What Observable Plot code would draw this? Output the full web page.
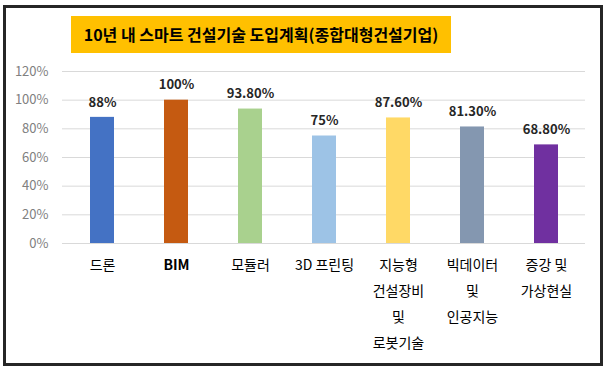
<!DOCTYPE html>
<html><head><meta charset="utf-8">
<script src="https://cdn.jsdelivr.net/npm/d3@7"></script>
<script src="https://cdn.jsdelivr.net/npm/@observablehq/plot@0.6"></script>
<style>
body{margin:0;background:#fff;font-family:"Noto Sans CJK KR","Noto Sans",sans-serif;}
#wrap{position:relative;width:607px;height:371px;overflow:hidden;}
#frame{position:absolute;left:3px;top:5px;width:594px;height:355px;border:3px solid #262626;pointer-events:none;}
#title{position:absolute;left:71px;top:16px;width:380px;height:37px;background:#FFC000;color:#000;font-weight:bold;font-size:16px;line-height:37px;text-align:center;white-space:nowrap;}
#chart{position:absolute;left:0;top:0;}
</style></head>
<body>
<div id="wrap">
<div id="chart"></div>
<div id="title">10년 내 스마트 건설기술 도입계획(종합대형건설기업)</div>
<div id="frame"></div>
</div>
<script>
const categories = ["드론","BIM","모듈러","3D 프린팅","지능형\n건설장비\n및\n로봇기술","빅데이터\n및\n인공지능","증강 및\n가상현실"];
const boldCategories = ["BIM"];
const values = [0.88, 1.00, 0.938, 0.75, 0.876, 0.813, 0.688];
const valueLabels = ["88%","100%","93.80%","75%","87.60%","81.30%","68.80%"];
const colors = ["#4472C4","#C55A11","#A9D18E","#9DC3E6","#FFD966","#8497B0","#7030A0"];
const yTicks = [0,0.2,0.4,0.6,0.8,1.0,1.2];

const data = categories.map((c,i)=>({cat:c, v:values[i], label:valueLabels[i], color:colors[i]}));
const axisOpts = {tickSize: 0, tickPadding: 8, fontSize: 14, fill: "#000", lineHeight: 1.85, label: null};

const plot = Plot.plot({
  width: 607, height: 371,
  marginLeft: 62, marginRight: 22, marginTop: 71, marginBottom: 128,
  style: {fontFamily: '"Noto Sans CJK KR","Noto Sans",sans-serif', background: "transparent"},
  x: {domain: categories, paddingInner: 0.68, paddingOuter: 0.34, label: null},
  y: {domain: [0, 1.2], label: null},
  marks: [
    Plot.gridY(yTicks, {stroke: "#D9D9D9", strokeOpacity: 1, strokeWidth: 1}),
    Plot.axisY(yTicks, {tickSize: 0, tickPadding: 14, fontSize: 13, fill: "#808080", tickFormat: d => Math.round(d*100) + "%", label: null}),
    Plot.axisX(categories.filter(c => !boldCategories.includes(c)), axisOpts),
    Plot.axisX(boldCategories, {...axisOpts, fontWeight: "bold"}),
    Plot.barY(data, {x: "cat", y: "v", fill: "color"}),
    Plot.text(data, {x: "cat", y: "v", text: "label", dy: -15, fontSize: 13, fontWeight: "bold", fill: "#262626"})
  ]
});
document.getElementById("chart").appendChild(plot);
</script>
</body></html>
